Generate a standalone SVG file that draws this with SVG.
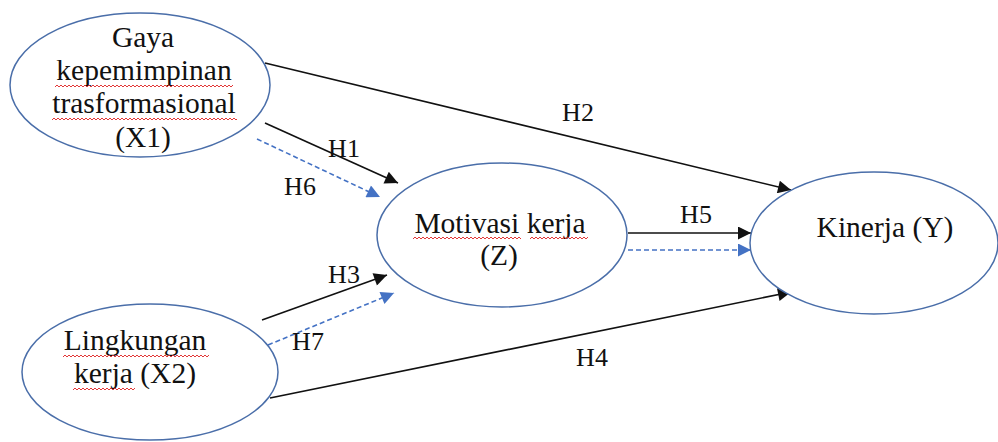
<svg xmlns="http://www.w3.org/2000/svg" width="998" height="442" viewBox="0 0 998 442">
<style>
.node{fill:#fff;stroke:#4a6ea9;stroke-width:1.5}
.nt{font-size:29.5px;fill:#111;text-anchor:middle}
.lb{font-size:26px;fill:#111;text-anchor:middle}
.solid{stroke:#111;stroke-width:1.6;fill:none;marker-end:url(#ab)}
.dash{stroke:#4472c4;stroke-width:1.6;fill:none;stroke-dasharray:5 3;marker-end:url(#ah)}
</style>
<defs>
<marker id="ab" viewBox="0 0 10 10" refX="10" refY="5" markerWidth="16" markerHeight="13" markerUnits="userSpaceOnUse" orient="auto"><path d="M0 0L10 5L0 10z" fill="#111"/></marker>
<marker id="ah" viewBox="0 0 10 10" refX="10" refY="5" markerWidth="16" markerHeight="13" markerUnits="userSpaceOnUse" orient="auto"><path d="M0 0L10 5L0 10z" fill="#4472c4"/></marker>
<pattern id="sq" width="4" height="4" patternUnits="userSpaceOnUse"><path d="M0 3L2 1L4 3" fill="none" stroke="#e02020" stroke-width="0.9"/></pattern>
</defs>
<rect width="998" height="442" fill="#fff"/>
<g font-family="'Liberation Serif', 'Times New Roman', 'DejaVu Serif', serif">
<g id="connectors">
<line class="solid" x1="265" y1="63" x2="791" y2="190"/>
<line class="solid" x1="265" y1="123" x2="398" y2="183"/>
<line class="dash" x1="257" y1="139" x2="380" y2="197"/>
<line class="solid" x1="262" y1="320" x2="387" y2="275"/>
<line class="dash" x1="268" y1="345" x2="394" y2="293"/>
<line class="solid" x1="270" y1="398" x2="791" y2="292"/>
<line class="solid" x1="628" y1="233" x2="751" y2="233"/>
<line class="dash" x1="628" y1="250" x2="751" y2="250"/>
<text class="lb" x="344" y="157">H1</text>
<text class="lb" x="300" y="195">H6</text>
<text class="lb" x="578" y="121">H2</text>
<text class="lb" x="344" y="283">H3</text>
<text class="lb" x="308" y="350">H7</text>
<text class="lb" x="592" y="366">H4</text>
<text class="lb" x="696" y="223">H5</text>
</g>
<g id="x1">
<ellipse class="node" cx="140" cy="85" rx="130" ry="72"/>
<text class="nt" x="143" y="47">Gaya</text>
<text class="nt" x="144" y="80">kepemimpinan</text>
<text class="nt" x="144" y="113">trasformasional</text>
<text class="nt" x="143" y="147">(X1)</text>
<rect transform="translate(55,84)" width="178" height="4" fill="url(#sq)"/>
<rect transform="translate(52,117)" width="185" height="4" fill="url(#sq)"/>
</g>
<g id="x2">
<ellipse class="node" cx="150" cy="372" rx="128" ry="68"/>
<text class="nt" x="135" y="350">Lingkungan</text>
<text class="nt" x="135" y="383">kerja (X2)</text>
<rect transform="translate(63,354)" width="146" height="4" fill="url(#sq)"/>
<rect transform="translate(73,387)" width="62" height="4" fill="url(#sq)"/>
</g>
<g id="z">
<ellipse class="node" cx="502" cy="235" rx="125" ry="72"/>
<text class="nt" x="500" y="233">Motivasi kerja</text>
<text class="nt" x="499" y="265">(Z)</text>
<rect transform="translate(413,236)" width="108" height="4" fill="url(#sq)"/>
<rect transform="translate(530,236)" width="58" height="4" fill="url(#sq)"/>
</g>
<g id="y">
<ellipse class="node" cx="874" cy="243" rx="124" ry="71"/>
<text class="nt" x="885" y="237">Kinerja (Y)</text>
</g>
</g>
</svg>
